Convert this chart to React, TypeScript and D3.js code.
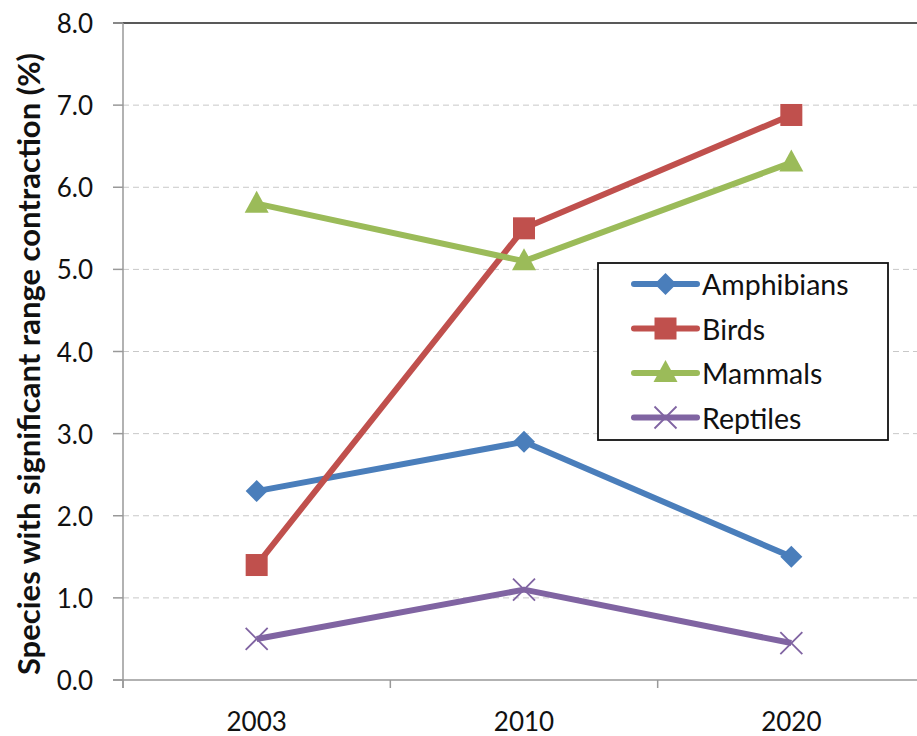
import { useEffect, useRef } from "react";
import * as d3 from "d3";

const years = ["2003", "2010", "2020"];
const seriesNames = ["Amphibians", "Birds", "Mammals", "Reptiles"];
const amphibians = [2.3, 2.9, 1.5];
const birds = [1.4, 5.5, 6.88];
const mammals = [5.8, 5.1, 6.3];
const reptiles = [0.5, 1.1, 0.45];
const yTicks = [0, 1, 2, 3, 4, 5, 6, 7, 8];
const colors = ["#4A7EBB", "#C0504D", "#9BBB59", "#8064A2"];
const markers = ["diamond", "square", "triangle", "cross"];

const W = 917;
const H = 736;
const FONT = "Lato, 'Open Sans', sans-serif";

export default function App() {
  const svgRef = useRef<SVGSVGElement>(null);

  useEffect(() => {
    if (!svgRef.current) return;
    const svg = d3.select(svgRef.current);
    svg.selectAll("*").remove();

    const x = d3.scaleBand().domain(years).range([123, 925]);
    const y = d3.scaleLinear().domain([0, 8]).range([680, 23]);
    const cx = (yr: string) => (x(yr) ?? 0) + x.bandwidth() / 2;

    // gridlines
    yTicks.forEach((t) => {
      if (t === 0 || t === 8) return;
      svg.append("line")
        .attr("x1", 123).attr("x2", W)
        .attr("y1", y(t)).attr("y2", y(t))
        .attr("stroke", "#c8c8c8").attr("stroke-width", 1)
        .attr("stroke-dasharray", "6,4");
    });
    // top border
    svg.append("line")
      .attr("x1", 113).attr("x2", W)
      .attr("y1", y(8)).attr("y2", y(8))
      .attr("stroke", "#222").attr("stroke-width", 1.5);

    // y axis
    svg.append("line")
      .attr("x1", 123).attr("x2", 123)
      .attr("y1", y(8)).attr("y2", y(0) + 8)
      .attr("stroke", "#999").attr("stroke-width", 1.5);
    yTicks.forEach((t) => {
      svg.append("line")
        .attr("x1", 113).attr("x2", 123)
        .attr("y1", y(t)).attr("y2", y(t))
        .attr("stroke", "#999").attr("stroke-width", 1.5);
      svg.append("text")
        .attr("x", 93).attr("y", y(t))
        .attr("text-anchor", "end")
        .attr("dominant-baseline", "central")
        .attr("font-family", FONT)
        .attr("font-size", 26)
        .attr("fill", "#111")
        .text(t.toFixed(1));
    });

    // x axis
    svg.append("line")
      .attr("x1", 113).attr("x2", W)
      .attr("y1", y(0)).attr("y2", y(0))
      .attr("stroke", "#999").attr("stroke-width", 1.5);
    years.forEach((yr) => {
      const bx = x(yr) ?? 0;
      svg.append("line")
        .attr("x1", bx).attr("x2", bx)
        .attr("y1", y(0)).attr("y2", y(0) + 8)
        .attr("stroke", "#999").attr("stroke-width", 1.5);
      svg.append("text")
        .attr("x", cx(yr)).attr("y", 721)
        .attr("text-anchor", "middle")
        .attr("dominant-baseline", "central")
        .attr("font-family", FONT)
        .attr("font-size", 26)
        .attr("fill", "#111")
        .text(yr);
    });

    // y label
    svg.append("text")
      .attr("transform", `translate(28,364) rotate(-90)`)
      .attr("text-anchor", "middle")
      .attr("dominant-baseline", "central")
      .attr("font-family", FONT)
      .attr("font-size", 31)
      .attr("font-weight", "bold")
      .attr("fill", "#111")
      .text("Species with significant range contraction (%)");

    const drawMarker = (g: any, kind: string, px: number, py: number, color: string) => {
      const s = 11;
      if (kind === "diamond") {
        g.append("path")
          .attr("d", `M${px},${py - s}L${px + s},${py}L${px},${py + s}L${px - s},${py}Z`)
          .attr("fill", color);
      } else if (kind === "square") {
        g.append("rect")
          .attr("x", px - 11).attr("y", py - 11)
          .attr("width", 22).attr("height", 22)
          .attr("fill", color);
      } else if (kind === "triangle") {
        g.append("path")
          .attr("d", `M${px},${py - 13}L${px + 12},${py + 9}L${px - 12},${py + 9}Z`)
          .attr("fill", color);
      } else {
        g.append("path")
          .attr("d", `M${px - 11},${py - 11}L${px + 11},${py + 11}M${px - 11},${py + 11}L${px + 11},${py - 11}`)
          .attr("stroke", color).attr("stroke-width", 1.8).attr("fill", "none");
      }
    };

    const allSeries = [amphibians, birds, mammals, reptiles];
    const line = d3.line<number>()
      .x((_, i) => cx(years[i]))
      .y((d) => y(d));

    allSeries.forEach((vals, si) => {
      const g = svg.append("g");
      g.append("path")
        .attr("d", line(vals))
        .attr("fill", "none")
        .attr("stroke", colors[si])
        .attr("stroke-width", 6)
        .attr("stroke-linejoin", "round");
      vals.forEach((v, i) => drawMarker(g, markers[si], cx(years[i]), y(v), colors[si]));
    });

    // legend
    const lg = svg.append("g");
    lg.append("rect")
      .attr("x", 598).attr("y", 263)
      .attr("width", 290).attr("height", 177)
      .attr("fill", "#fff")
      .attr("stroke", "#111").attr("stroke-width", 1.8);
    seriesNames.forEach((name, i) => {
      const ly = 284 + i * 44.5;
      lg.append("line")
        .attr("x1", 634).attr("x2", 697)
        .attr("y1", ly).attr("y2", ly)
        .attr("stroke", colors[i]).attr("stroke-width", 6)
        .attr("stroke-linecap", "round");
      drawMarker(lg, markers[i], 665.5, ly, colors[i]);
      lg.append("text")
        .attr("x", 702).attr("y", ly)
        .attr("dominant-baseline", "central")
        .attr("font-family", FONT)
        .attr("font-size", 28.5)
        .attr("fill", "#111")
        .text(name);
    });
  }, []);

  return (
    <svg
      ref={svgRef}
      width={W}
      height={H}
      style={{ position: "absolute", left: 0, top: 0, background: "#fff" }}
    />
  );
}
